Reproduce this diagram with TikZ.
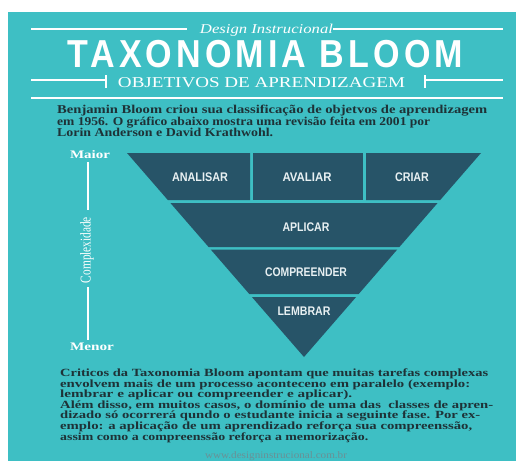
\documentclass[tikz,border=0pt]{standalone}
\usepackage{fontspec}
\usepackage{graphicx}
\setmainfont{Liberation Serif}
\setsansfont{Liberation Sans}

\definecolor{bgteal}{HTML}{3EBFC4}
\definecolor{tierblue}{HTML}{275468}
\definecolor{inkdark}{HTML}{1E3237}
\definecolor{tiertext}{HTML}{E8F0F2}
\definecolor{urlgray}{HTML}{6A9095}

% stretch a line of text to a given width, keeping its height
\newcommand\fitline[2]{\resizebox{#1}{\height}{#2}}

\tikzset{
  rule/.style={draw=white, line width=2pt},
  axisrule/.style={draw=white, line width=1.3pt},
  para/.style={anchor=base west, inner sep=0pt, text=inkdark,
    font=\fontsize{12}{12}\selectfont\bfseries},
  note/.style={para, font=\fontsize{11}{11}\selectfont\bfseries},
  tier/.style={fill=tierblue},
  tierlabel/.style={inner sep=0pt, text=tiertext,
    font=\sffamily\bfseries\fontsize{12.5}{12.5}\selectfont},
  axislabel/.style={inner sep=0pt, text=white,
    font=\bfseries\fontsize{11.5}{11.5}\selectfont},
}

\begin{document}
\begin{tikzpicture}[x=1pt,y=-1pt]
\useasboundingbox (0,0) rectangle (516,461);
\fill[white] (0,0) rectangle (516,461);
\fill[bgteal] (8,12) rectangle (516,461);

% ---- header ----
\node[anchor=base, inner sep=0pt, text=white,
  font=\itshape\fontsize{13.5}{13.5}\selectfont] (kicker) at (266.5,33)
  {\fitline{133pt}{Design Instrucional}};
\draw[rule] (31,29) -- (187,29);
\draw[rule] (333,29) -- (503,29);

\node[inner sep=0pt, text=white,
  font=\sffamily\bfseries\fontsize{39}{39}\selectfont\addfontfeatures{LetterSpace=12}] (title) at (265.5,54)
  {\fitline{395pt}{TAXONOMIA BLOOM}};

\node[anchor=base, inner sep=0pt, text=white,
  font=\fontsize{15}{15}\selectfont] (subtitle) at (261.5,87)
  {\fitline{287pt}{OBJETIVOS DE APRENDIZAGEM}};
\draw[rule] (31,80) -- (106,80);
\draw[rule] (106,75) -- (106,88);
\draw[rule] (425,75) -- (425,88);
\draw[rule] (425,80) -- (503,80);
\draw[rule] (31,98) -- (503,98);

% ---- intro paragraph ----
\node[para] (introA) at (57,113.5) {\fitline{430pt}{Benjamin Bloom criou sua classificação de objetvos de aprendizagem}};
\node[para] (introB) at (57,125) {\fitline{373pt}{em 1956. O gráfico abaixo mostra uma revisão feita em 2001 por}};
\node[para] (introC) at (57,136.5) {\fitline{216pt}{Lorin Anderson e David Krathwohl.}};

% ---- inverted pyramid ----
\fill[tier] (127,153) -- (250,153) -- (250,200) -- (167.8,200) -- cycle;
\fill[tier] (253,153) -- (362.5,153) -- (362.5,200) -- (253,200) -- cycle;
\fill[tier] (366,153) -- (481,153) -- (440.2,200) -- (366,200) -- cycle;
\fill[tier] (170.4,203) -- (437.6,203) -- (399.4,247) -- (208.6,247) -- cycle;
\fill[tier] (210.7,249.5) -- (397.3,249.5) -- (358.7,294) -- (249.3,294) -- cycle;
\fill[tier] (251.9,297) -- (356.1,297) -- (304,357) -- cycle;

\node[tierlabel] (analisar) at (200,176.7) {\fitline{56pt}{ANALISAR}};
\node[tierlabel] (avaliar) at (307,176.7) {\fitline{49pt}{AVALIAR}};
\node[tierlabel] (criar) at (412,176.7) {\fitline{34pt}{CRIAR}};
\node[tierlabel] (aplicar) at (306,226.7) {\fitline{47pt}{APLICAR}};
\node[tierlabel] (compreender) at (306,271.7) {\fitline{82pt}{COMPREENDER}};
\node[tierlabel] (lembrar) at (304,310.7) {\fitline{53pt}{LEMBRAR}};

% ---- complexity axis ----
\node[axislabel] (maior) at (90,155) {\fitline{40pt}{Maior}};
\node[axislabel] (menor) at (92,346.7) {\fitline{44pt}{Menor}};
\node[inner sep=0pt, text=white, rotate=90,
  font=\fontsize{15}{15}\selectfont] (complex) at (87,250)
  {\fitline{66pt}{Complexidade}};
\draw[axisrule] (88,162) -- (88,210);
\draw[axisrule] (88,287) -- (88,340);

% ---- closing paragraph ----
\node[note] (noteA) at (60,376.5) {\fitline{428pt}{Criticos da Taxonomia Bloom apontam que muitas tarefas complexas}};
\node[note] (noteB) at (60,387.1) {\fitline{410pt}{envolvem mais de um processo aconteceno em paralelo (exemplo:}};
\node[note] (noteC) at (60,397.7) {\fitline{292pt}{lembrar e aplicar ou compreender e aplicar).}};
\node[note] (noteD) at (60,408.3) {\fitline{433pt}{Além disso, em muitos casos, o domínio de uma das\ \ classes de apren-}};
\node[note] (noteE) at (60,418.9) {\fitline{420pt}{dizado só ocorrerá qundo o estudante inicia a seguinte fase. Por ex-}};
\node[note] (noteF) at (60,429.5) {\fitline{412pt}{emplo: a aplicação de um aprendizado reforça sua compreenssão,}};
\node[note] (noteG) at (60,440.1) {\fitline{308pt}{assim como a compreenssão reforça a memorização.}};

% ---- footer address along the lower edge ----
\node[inner sep=0pt, text=urlgray, font=\fontsize{10}{10}\selectfont]
  (url) at (276,456.5) {\fitline{142pt}{www.designinstrucional.com.br}};
\end{tikzpicture}
\end{document}
